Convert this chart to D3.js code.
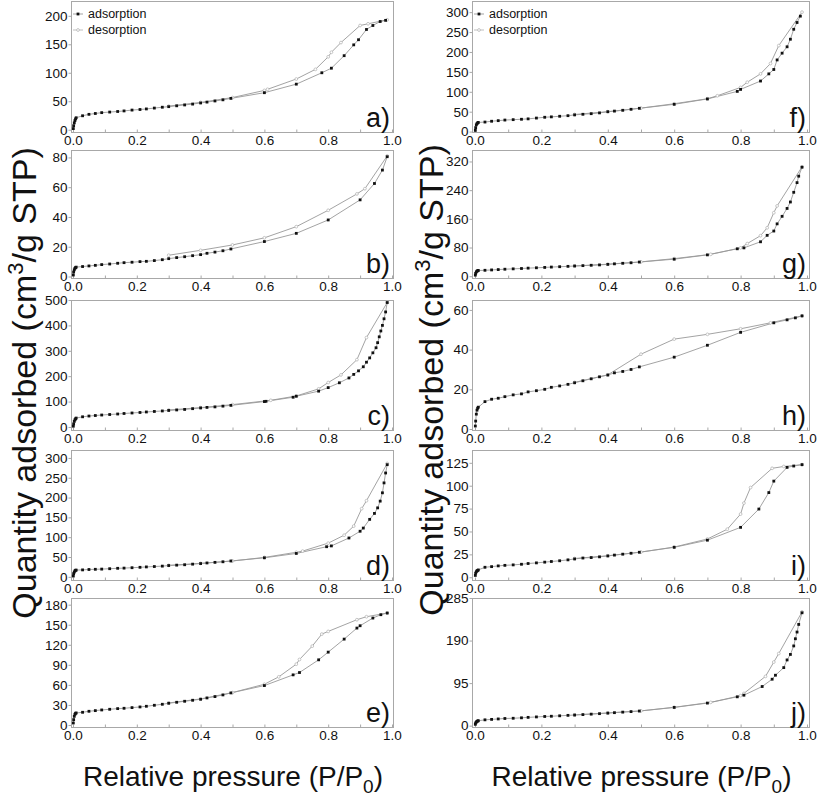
<!DOCTYPE html>
<html>
<head>
<meta charset="utf-8">
<script src="https://cdn.jsdelivr.net/npm/d3@7"></script>
<style>
  body { margin: 0; background: #fff; }
  svg { display: block; font-family: "Liberation Sans", Arial, sans-serif; }
</style>
</head>
<body>
<svg id="chart" width="817" height="798"></svg>
<script>
// shared low-pressure points of the adsorption branch
const pressureLow = [0.001, 0.002, 0.004, 0.006, 0.008, 0.01, 0.03, 0.05, 0.07, 0.09, 0.115, 0.14, 0.16,
  0.185, 0.21, 0.23, 0.255, 0.28, 0.3, 0.325, 0.35, 0.375, 0.4, 0.42, 0.445, 0.47, 0.495];
const pressureTicks = [0, 0.1, 0.2, 0.3, 0.4, 0.5, 0.6, 0.7, 0.8, 0.9, 1.0];

// a)
const adsLowA = [2, 7, 12, 16, 19, 21, 24.5, 27, 28.5, 30, 31, 32, 33, 34.5, 35.5, 36.5, 38, 39.5, 40.5, 42, 43.5, 45, 47, 48.5, 50.5, 52.5, 55];
const adsHighA = [[0.6, 65], [0.7, 80], [0.78, 100], [0.81, 108], [0.85, 130], [0.88, 149], [0.895, 158], [0.92, 176], [0.94, 183], [0.963, 190], [0.98, 192]];
const desA = [[0.985, 193], [0.925, 186], [0.9, 183], [0.84, 153], [0.81, 136], [0.8, 128], [0.76, 106], [0.7, 89], [0.61, 71], [0.6, 69], [0.5, 56.5], [0.4, 48], [0.3, 41.5]];
const ticksA = [0, 50, 100, 150, 200];

// b)
const adsLowB = [1, 3, 4.5, 5.5, 6, 6.3, 6.7, 7.1, 7.5, 8, 8.4, 8.9, 9.3, 9.6, 10, 10.2, 10.7, 11.3, 12, 12.7, 13.3, 14, 14.7, 15.6, 16.4, 17.3, 18.5];
const adsHighB = [[0.6, 23.5], [0.7, 29], [0.8, 38], [0.9, 51.5], [0.945, 62.5], [0.97, 71.5], [0.985, 80.5]];
const desB = [[0.985, 81], [0.915, 59], [0.89, 55.5], [0.8, 44.5], [0.7, 33.5], [0.6, 26], [0.5, 21.2], [0.4, 17.6], [0.3, 14.3]];
const ticksB = [0, 20, 40, 60, 80];

// c)
const adsLowC = [3, 12, 22, 28, 32, 35, 40, 43, 45, 47, 49, 51, 53, 55, 57, 59, 61, 63, 65, 67, 69, 72, 75, 77, 79, 82, 85];
const adsHighC = [[0.6, 100], [0.605, 101], [0.69, 117], [0.7, 121], [0.77, 141], [0.8, 155], [0.835, 174], [0.865, 193], [0.88, 207], [0.895, 221],
  [0.91, 237], [0.92, 255], [0.93, 272], [0.94, 292], [0.95, 312], [0.955, 332], [0.96, 355], [0.965, 378], [0.97, 400], [0.975, 426], [0.98, 453], [0.985, 490]];
const desC = [[0.985, 490], [0.92, 352], [0.89, 265], [0.84, 205], [0.8, 175], [0.77, 150], [0.7, 122], [0.62, 105], [0.5, 88], [0.4, 76], [0.3, 67]];
const ticksC = [0, 100, 200, 300, 400, 500];

// d)
const adsLowD = [2, 8, 12, 15, 16.5, 17, 17.5, 18.5, 19, 19.5, 20.5, 21.5, 22, 23, 24, 25, 26, 27, 28.5, 29.5, 30.5, 32, 33.5, 35, 36.5, 38, 40];
const adsHighD = [[0.6, 48], [0.7, 59], [0.795, 76], [0.81, 78], [0.865, 98], [0.9, 115], [0.91, 123], [0.93, 145], [0.945, 160], [0.955, 174],
  [0.963, 191], [0.97, 212], [0.975, 237], [0.98, 262], [0.985, 283]];
const desD = [[0.985, 286], [0.92, 192], [0.905, 172], [0.88, 128], [0.85, 105], [0.8, 85], [0.72, 65], [0.7, 62], [0.6, 49], [0.5, 40], [0.4, 34], [0.3, 29]];
const ticksD = [0, 50, 100, 150, 200, 250, 300];

// e)
const adsLowE = [3, 8, 13, 16, 17.5, 18, 19, 20.5, 21.5, 22.5, 23.5, 24.5, 25, 26, 27, 28, 29.5, 31, 32.5, 34, 35.5, 37, 38.5, 40.5, 42.5, 45, 48];
const adsHighE = [[0.6, 59], [0.69, 75], [0.71, 78.5], [0.77, 97.5], [0.8, 109], [0.85, 128.5], [0.89, 145], [0.9, 148.5], [0.94, 160], [0.965, 165], [0.985, 167.5]];
const desE = [[0.985, 167.5], [0.92, 162], [0.89, 157.5], [0.8, 140], [0.78, 136], [0.75, 118], [0.71, 98], [0.7, 91], [0.645, 72], [0.6, 61], [0.5, 48.5], [0.4, 39], [0.3, 33]];
const ticksE = [0, 30, 60, 90, 120, 150, 180];

// f)
const adsLowF = [3, 10, 17, 20, 22, 23, 24, 26, 27.5, 29, 30, 31, 32, 34, 36, 37, 38.5, 40, 42, 43.5, 45, 47, 50, 51.5, 53.5, 56, 58.5];
const adsHighF = [[0.6, 68.5], [0.7, 82], [0.79, 101], [0.8, 106], [0.86, 127], [0.885, 145], [0.9, 156], [0.91, 180], [0.925, 197], [0.94, 213],
  [0.95, 232], [0.96, 257], [0.97, 274], [0.98, 290]];
const desF = [[0.985, 300], [0.915, 216], [0.89, 171], [0.86, 145], [0.82, 124], [0.8, 111], [0.73, 90], [0.7, 82.5], [0.6, 70], [0.5, 59], [0.4, 50], [0.3, 43]];
const ticksF = [0, 50, 100, 150, 200, 250, 300];

// g)
const adsLowG = [3, 8, 12, 14, 15.5, 16, 16.5, 17.5, 18.5, 19.5, 20.5, 21.5, 22.5, 23.5, 24.5, 25.5, 26.5, 27.5, 28.5, 29.5, 30.5, 31.5, 33, 34.5, 36, 37.5, 39.5];
const adsHighG = [[0.6, 47.5], [0.7, 59.5], [0.79, 76.5], [0.81, 79], [0.86, 96], [0.88, 114], [0.9, 126], [0.91, 146], [0.925, 167], [0.94, 189],
  [0.95, 207], [0.96, 234], [0.97, 261], [0.975, 279], [0.985, 304]];
const desG = [[0.985, 305], [0.91, 196], [0.9, 177], [0.88, 135], [0.86, 113], [0.82, 91], [0.8, 79], [0.71, 61], [0.6, 49], [0.5, 40], [0.4, 33.5], [0.3, 28.5]];
const ticksG = [0, 80, 160, 240, 320];

// h)
const adsLowH = [1.5, 4, 7.5, 9.5, 10.5, 11, 13.8, 15, 15.5, 16.3, 17.2, 17.7, 18.7, 19.3, 20, 21, 21.7, 22.5, 23.3, 24.3, 25.3, 26.3, 27.2, 28.3, 29, 30, 31.3];
const adsHighH = [[0.6, 36.2], [0.7, 42.2], [0.8, 48.7], [0.9, 53.5], [0.94, 55], [0.965, 56], [0.985, 57]];
const desH = [[0.985, 57], [0.89, 53.5], [0.8, 50.5], [0.7, 47.7], [0.6, 45.3], [0.5, 37.7], [0.4, 27.3], [0.3, 23.5]];
const ticksH = [0, 20, 40, 60];

// i)
const adsLowI = [2, 4.5, 6, 7, 7.5, 8, 10.9, 11.6, 12.4, 13, 13.5, 14.2, 15, 15.7, 16.5, 17.2, 18, 19, 20, 21, 21.5, 22.3, 23.3, 24.2, 25.2, 26.2, 27.3];
const adsHighI = [[0.6, 32.7], [0.7, 40.5], [0.8, 54.5], [0.855, 74.5], [0.885, 92.5], [0.9, 105], [0.94, 120], [0.96, 121.5], [0.985, 123]];
const desI = [[0.985, 123], [0.93, 121], [0.895, 119], [0.83, 98], [0.81, 81], [0.8, 69], [0.76, 52.5], [0.7, 41.8], [0.6, 33], [0.5, 27.5], [0.4, 23.5], [0.3, 20.5]];
const ticksI = [0, 25, 50, 75, 100, 125];

// j)
const adsLowJ = [3, 6, 8, 9.5, 10.5, 11, 13, 14, 15, 16, 16.5, 17.5, 18.5, 19.5, 20.5, 21, 22, 23, 23.7, 24.7, 25.7, 26.8, 28, 29, 30.2, 31.4, 32.6];
const adsHighJ = [[0.6, 40.7], [0.7, 50.4], [0.79, 64.4], [0.81, 68], [0.865, 87.4], [0.895, 103.7], [0.905, 112.6], [0.93, 129.6], [0.94, 146.7],
  [0.95, 159], [0.96, 178], [0.965, 194], [0.97, 209], [0.975, 226], [0.985, 252]];
const desJ = [[0.985, 254], [0.915, 161], [0.9, 142], [0.875, 110], [0.81, 72], [0.8, 67], [0.71, 52], [0.6, 41], [0.5, 33], [0.4, 28.5], [0.3, 24]];
const ticksJ = [0, 95, 190, 285];

// layout
const cols = [{ left: 71, right: 393, x0: 73, x1: 392 }, { left: 472, right: 809, x0: 475, x1: 807 }];
const rows = [{ top: 1, bottom: 132 }, { top: 150, bottom: 278 }, { top: 300, bottom: 430 }, { top: 450, bottom: 580 }, { top: 598, bottom: 727 }];

const panels = [
  { label: "a)", col: 0, row: 0, low: adsLowA, high: adsHighA, des: desA, ticks: ticksA, dom: [-4, 226], legend: true },
  { label: "b)", col: 0, row: 1, low: adsLowB, high: adsHighB, des: desB, ticks: ticksB, dom: [-1, 85] },
  { label: "c)", col: 0, row: 2, low: adsLowC, high: adsHighC, des: desC, ticks: ticksC, dom: [-12, 500] },
  { label: "d)", col: 0, row: 3, low: adsLowD, high: adsHighD, des: desD, ticks: ticksD, dom: [-8, 320] },
  { label: "e)", col: 0, row: 4, low: adsLowE, high: adsHighE, des: desE, ticks: ticksE, dom: [-3, 190] },
  { label: "f)", col: 1, row: 0, low: adsLowF, high: adsHighF, des: desF, ticks: ticksF, dom: [-1, 328], legend: true },
  { label: "g)", col: 1, row: 1, low: adsLowG, high: adsHighG, des: desG, ticks: ticksG, dom: [-5, 352] },
  { label: "h)", col: 1, row: 2, low: adsLowH, high: adsHighH, des: desH, ticks: ticksH, dom: [-0.5, 65] },
  { label: "i)", col: 1, row: 3, low: adsLowI, high: adsHighI, des: desI, ticks: ticksI, dom: [-3, 139] },
  { label: "j)", col: 1, row: 4, low: adsLowJ, high: adsHighJ, des: desJ, ticks: ticksJ, dom: [-3, 285] }
];

const lineColor = "#999";
const frameColor = "#a8a8a8";
const desColor = "#b8b8b8";

const svg = d3.select("#chart");
svg.append("rect").attr("width", 817).attr("height", 798).attr("fill", "#fff");

panels.forEach((p) => {
  const c = cols[p.col];
  const r = rows[p.row];
  const x = d3.scaleLinear().domain([0, 1]).range([c.x0, c.x1]);
  const y = d3.scaleLinear().domain(p.dom).range([r.bottom, r.top]);
  const g = svg.append("g");

  const ads = pressureLow.map((px, i) => [px, p.low[i]]).concat(p.high);

  g.append("rect")
    .attr("x", c.left + 0.5).attr("y", r.top + 0.5)
    .attr("width", c.right - c.left).attr("height", r.bottom - r.top)
    .attr("fill", "none").attr("stroke", frameColor);

  // x axis, inward ticks
  const xAxis = g.append("g")
    .attr("transform", `translate(0,${r.bottom + 0.5})`)
    .call(d3.axisBottom(x).tickValues(pressureTicks).tickSizeInner(-3).tickSizeOuter(0).tickPadding(3)
      .tickFormat((d) => (Math.round(d * 10) % 2 === 0 ? d3.format(".1f")(d) : "")));
  xAxis.select(".domain").remove();
  xAxis.selectAll(".tick line").attr("stroke", frameColor);
  xAxis.selectAll("text").attr("font-size", 13.5).attr("fill", "#111").style("font-family", "inherit");

  // y axis
  const yAxis = g.append("g")
    .attr("transform", `translate(${c.left + 0.5},0)`)
    .call(d3.axisLeft(y).tickValues(p.ticks).tickSizeInner(3).tickSizeOuter(0).tickPadding(1));
  yAxis.select(".domain").remove();
  yAxis.selectAll(".tick line").attr("stroke", frameColor);
  yAxis.selectAll("text").attr("font-size", 13.5).attr("fill", "#111").style("font-family", "inherit");

  const line = d3.line().x((d) => x(d[0])).y((d) => y(d[1]));

  g.append("path").datum(p.des).attr("d", line)
    .attr("fill", "none").attr("stroke", lineColor).attr("stroke-width", 0.9);
  g.append("path").datum(ads).attr("d", line)
    .attr("fill", "none").attr("stroke", lineColor).attr("stroke-width", 0.9);

  g.selectAll(".des").data(p.des).enter().append("circle")
    .attr("cx", (d) => x(d[0])).attr("cy", (d) => y(d[1])).attr("r", 1.4)
    .attr("fill", "#fff").attr("stroke", desColor).attr("stroke-width", 0.8);
  g.selectAll(".ads").data(ads).enter().append("rect")
    .attr("x", (d) => x(d[0]) - 1.4).attr("y", (d) => y(d[1]) - 1.4)
    .attr("width", 2.8).attr("height", 2.8).attr("fill", "#111");

  g.append("text")
    .attr("x", c.right - 3).attr("y", r.bottom - 5)
    .attr("text-anchor", "end").attr("font-size", 27).attr("fill", "#111")
    .text(p.label);

  if (p.legend) {
    const lg = g.append("g").attr("transform", `translate(${c.left + 2},${r.top})`);
    [["adsorption", 13, true], ["desorption", 29, false]].forEach(([name, yy, isAds]) => {
      lg.append("line").attr("x1", 0).attr("x2", 10).attr("y1", yy).attr("y2", yy)
        .attr("stroke", isAds ? lineColor : desColor).attr("stroke-width", 0.9);
      if (isAds) {
        lg.append("rect").attr("x", 3.6).attr("y", yy - 1.4).attr("width", 2.8).attr("height", 2.8).attr("fill", "#111");
      } else {
        lg.append("circle").attr("cx", 5).attr("cy", yy).attr("r", 1.4)
          .attr("fill", "#fff").attr("stroke", desColor).attr("stroke-width", 0.8);
      }
      lg.append("text").attr("x", 15).attr("y", yy + 4).attr("font-size", 12.5).attr("fill", "#111").text(name);
    });
  }
});

// axis titles
[{ cx: 36, cy: 383 }, { cx: 443, cy: 380 }].forEach((t) => {
  const yt = svg.append("text")
    .attr("transform", `translate(${t.cx},${t.cy}) rotate(-90)`)
    .attr("text-anchor", "middle").attr("font-size", 34).attr("fill", "#111");
  yt.append("tspan").text("Quantity adsorbed (cm");
  yt.append("tspan").attr("font-size", 22).attr("dy", -13).text("3");
  yt.append("tspan").attr("dy", 13).text("/g STP)");
});

cols.forEach((c) => {
  const xt = svg.append("text")
    .attr("x", (c.left + c.right) / 2 + 1).attr("y", 786)
    .attr("text-anchor", "middle").attr("font-size", 28).attr("fill", "#111");
  xt.append("tspan").text("Relative pressure (P/P");
  xt.append("tspan").attr("font-size", 19).attr("dy", 7).text("0");
  xt.append("tspan").attr("dy", -7).text(")");
});
</script>
</body>
</html>
